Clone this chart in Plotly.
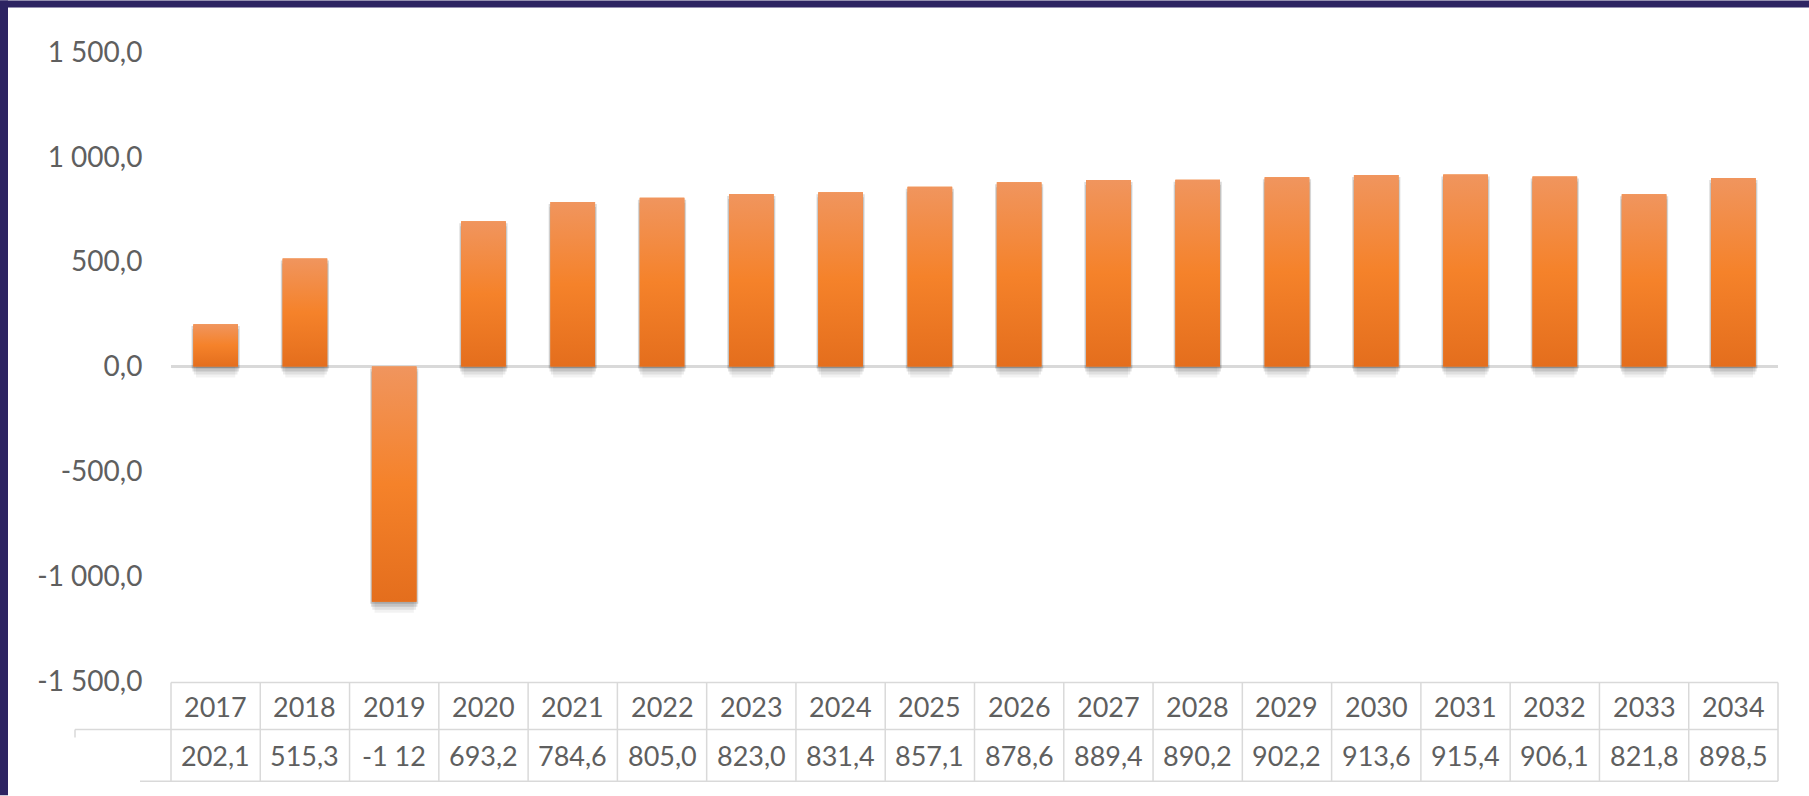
import plotly.graph_objects as go

# ---------------- data ----------------
years = ["2017", "2018", "2019", "2020", "2021", "2022", "2023", "2024", "2025",
         "2026", "2027", "2028", "2029", "2030", "2031", "2032", "2033", "2034"]
values = [202.1, 515.3, -1122.0, 693.2, 784.6, 805.0, 823.0, 831.4, 857.1,
          878.6, 889.4, 890.2, 902.2, 913.6, 915.4, 906.1, 821.8, 898.5]
table_labels = ["202,1", "515,3", "-1 12", "693,2", "784,6", "805,0", "823,0", "831,4", "857,1",
                "878,6", "889,4", "890,2", "902,2", "913,6", "915,4", "906,1", "821,8", "898,5"]
y_tickvals = [-1500, -1000, -500, 0, 500, 1000, 1500]
y_ticktext = ["-1 500,0", "-1 000,0", "-500,0", "0,0", "500,0", "1 000,0", "1 500,0"]

# ---------------- geometry (pixels) ----------------
W, H = 1809, 796
L, R, T, B = 171, 31, 51.5, 114.5
PW, PH = W - L - R, H - T - B
YMIN, YMAX = -1500, 1500
px_per_unit = PH / (YMAX - YMIN)
BAR_W = 0.5


def px_x(x):
    return (x - L) / PW


def px_y(y):
    return (H - B - y) / PH


FONT = "Lato"
TXT = "#5F5F5F"
GRID = "#D9D9D9"
BORDER = "#2D2462"
GRAD = [[0.0, "#E46E1D"], [0.5, "#F5822A"], [1.0, "#F0955E"]]

n = len(years)
idx = list(range(n))

fig = go.Figure()

# soft drop shadow layers (offset downward)
for off_px, alpha, wd in [(11, 0.05, 0.44), (8, 0.08, 0.49), (5, 0.12, 0.52), (2, 0.14, 0.54)]:
    off = off_px / px_per_unit
    fig.add_trace(go.Bar(
        x=idx, y=values, base=[-off] * n, width=wd,
        marker=dict(color=f"rgba(0,0,0,{alpha})", line=dict(width=0)),
        hoverinfo="skip", showlegend=False,
    ))

# main bars
fig.add_trace(go.Bar(
    x=idx, y=values, width=BAR_W,
    marker=dict(color="#F3802B", line=dict(width=0)),
    customdata=years, hovertemplate="%{customdata}: %{y}<extra></extra>",
    showlegend=False,
))

# vertical gradient overlay for each bar (same geometry as the bars)
for i, v in zip(idx, values):
    x0, x1 = i - BAR_W / 2, i + BAR_W / 2
    fig.add_trace(go.Scatter(
        x=[x0, x1, x1, x0, x0], y=[0, 0, v, v, 0],
        mode="none", fill="toself",
        fillgradient=dict(type="vertical", colorscale=GRAD),
        hoverinfo="skip", showlegend=False,
    ))

shapes = []
# purple frame (left, top)
shapes.append(dict(type="rect", xref="paper", yref="paper",
                   x0=px_x(0), x1=px_x(8), y0=px_y(H), y1=px_y(0),
                   fillcolor=BORDER, line=dict(width=0), layer="above"))
shapes.append(dict(type="rect", xref="paper", yref="paper",
                   x0=px_x(0), x1=px_x(W), y0=px_y(7), y1=px_y(0),
                   fillcolor=BORDER, line=dict(width=0), layer="above"))

# data table lines
t_top, t_mid, t_bot = 683, 730, 782
lw = 1.5
shapes.append(dict(type="line", xref="paper", yref="paper",
                   x0=0, x1=1, y0=px_y(t_top), y1=px_y(t_top), line=dict(color=GRID, width=lw)))
shapes.append(dict(type="line", xref="paper", yref="paper",
                   x0=px_x(75), x1=1, y0=px_y(t_mid), y1=px_y(t_mid), line=dict(color=GRID, width=lw)))
shapes.append(dict(type="line", xref="paper", yref="paper",
                   x0=px_x(140), x1=1, y0=px_y(t_bot), y1=px_y(t_bot), line=dict(color=GRID, width=lw)))
shapes.append(dict(type="line", xref="paper", yref="paper",
                   x0=px_x(75), x1=px_x(75), y0=px_y(t_mid), y1=px_y(738), line=dict(color=GRID, width=lw)))
for k in range(n + 1):
    shapes.append(dict(type="line", xref="paper", yref="paper",
                       x0=k / n, x1=k / n, y0=px_y(t_top), y1=px_y(t_bot),
                       line=dict(color=GRID, width=lw)))

annotations = []
for k, (yr, lab) in enumerate(zip(years, table_labels)):
    xc = (k + 0.5) / n
    annotations.append(dict(x=xc, xref="paper", yref="paper", y=px_y((t_top + t_mid) / 2 + 1),
                            text=yr, showarrow=False, xanchor="center", yanchor="middle",
                            font=dict(family=FONT, size=27, color=TXT)))
    annotations.append(dict(x=xc, xref="paper", yref="paper", y=px_y((t_mid + t_bot) / 2),
                            text=lab, showarrow=False, xanchor="center", yanchor="middle",
                            font=dict(family=FONT, size=27, color=TXT)))

fig.update_layout(
    width=W, height=H,
    margin=dict(l=L, r=R, t=T, b=B, pad=0),
    paper_bgcolor="white", plot_bgcolor="white",
    barmode="overlay",
    showlegend=False,
    shapes=shapes,
    annotations=annotations,
    font=dict(family=FONT, color=TXT),
)
fig.update_xaxes(type="linear", showticklabels=False, showgrid=False, zeroline=False,
                 showline=False, ticks="", range=[-0.5, n - 0.5], fixedrange=True)
fig.update_yaxes(range=[YMIN, YMAX], tickvals=y_tickvals, ticktext=y_ticktext,
                 showgrid=False, zeroline=True, zerolinecolor=GRID, zerolinewidth=2.5,
                 showline=False, ticks="outside", ticklen=22, tickcolor="rgba(0,0,0,0)",
                 tickfont=dict(family=FONT, size=28, color=TXT), fixedrange=True)

fig.write_html("out.html", config={"displayModeBar": False},
               post_script="document.body.style.margin='0';document.body.style.overflow='hidden';")
